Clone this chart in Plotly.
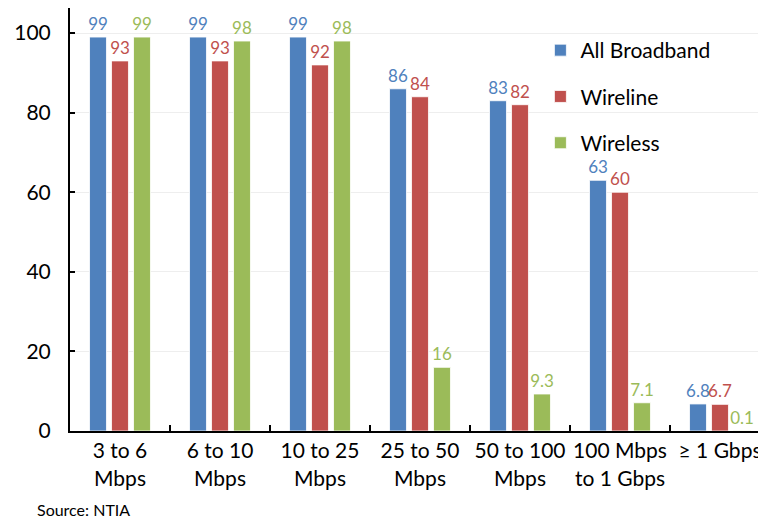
import plotly.graph_objects as go

categories = ["3 to 6<br>Mbps", "6 to 10<br>Mbps", "10 to 25<br>Mbps", "25 to 50<br>Mbps",
              "50 to 100<br>Mbps", "100 Mbps<br>to 1 Gbps", "≥ 1 Gbps"]
all_broadband = [99, 99, 99, 86, 83, 63, 6.8]
wireline = [93, 93, 92, 84, 82, 60, 6.7]
wireless = [99, 98, 98, 16, 9.3, 7.1, 0.1]

series = [
    ("All Broadband", all_broadband, "#4F81BD"),
    ("Wireline", wireline, "#C0504D"),
    ("Wireless", wireless, "#9BBB59"),
]

FONT = "Lato"
fig = go.Figure()
for i, (name, vals, col) in enumerate(series):
    fig.add_trace(go.Bar(
        x=categories, y=vals, name=name,
        marker=dict(color=col, line=dict(color="white", width=0.8)),
        text=[f"{v:g}" for v in vals], textposition="outside",
        textfont=dict(color=col, size=17, family=FONT), constraintext="none",
        cliponaxis=False, legendgroup=name,
    ))

fig.update_layout(
    width=766, height=518,
    margin=dict(l=62, r=4, t=0, b=95, autoexpand=False),
    paper_bgcolor="white", plot_bgcolor="white",
    barmode="group", bargap=0.34, bargroupgap=0.23,
    font=dict(family=FONT, color="black", size=21),
    legend=dict(x=0.672, y=0.948, xanchor="left", yanchor="top",
                font=dict(size=21, family=FONT), traceorder="grouped",
                tracegroupgap=16, bgcolor="rgba(0,0,0,0)"),
    annotations=[dict(text="Source: NTIA", xref="paper", yref="paper",
                      x=-0.05, y=-0.158, xanchor="left", yanchor="top",
                      showarrow=False, font=dict(size=16, family=FONT))],
)
fig.update_xaxes(showline=True, linecolor="black", linewidth=2, mirror=True,
                 ticks="inside", tickson="boundaries", ticklen=6, tickcolor="black",
                 tickwidth=1.5, tickangle=0, tickfont=dict(size=21, family=FONT))
fig.update_yaxes(range=[0, 106.3], showline=True, linecolor="black", linewidth=2,
                 ticks="inside", ticklen=5, tickcolor="black", tickwidth=1.5,
                 tickvals=[0, 20, 40, 60, 80, 100], showgrid=True,
                 gridcolor="#EEEEEE", gridwidth=1, zeroline=False,
                 tickfont=dict(size=21, family=FONT), ticklabelstandoff=13)

fig.write_html("out.html")
